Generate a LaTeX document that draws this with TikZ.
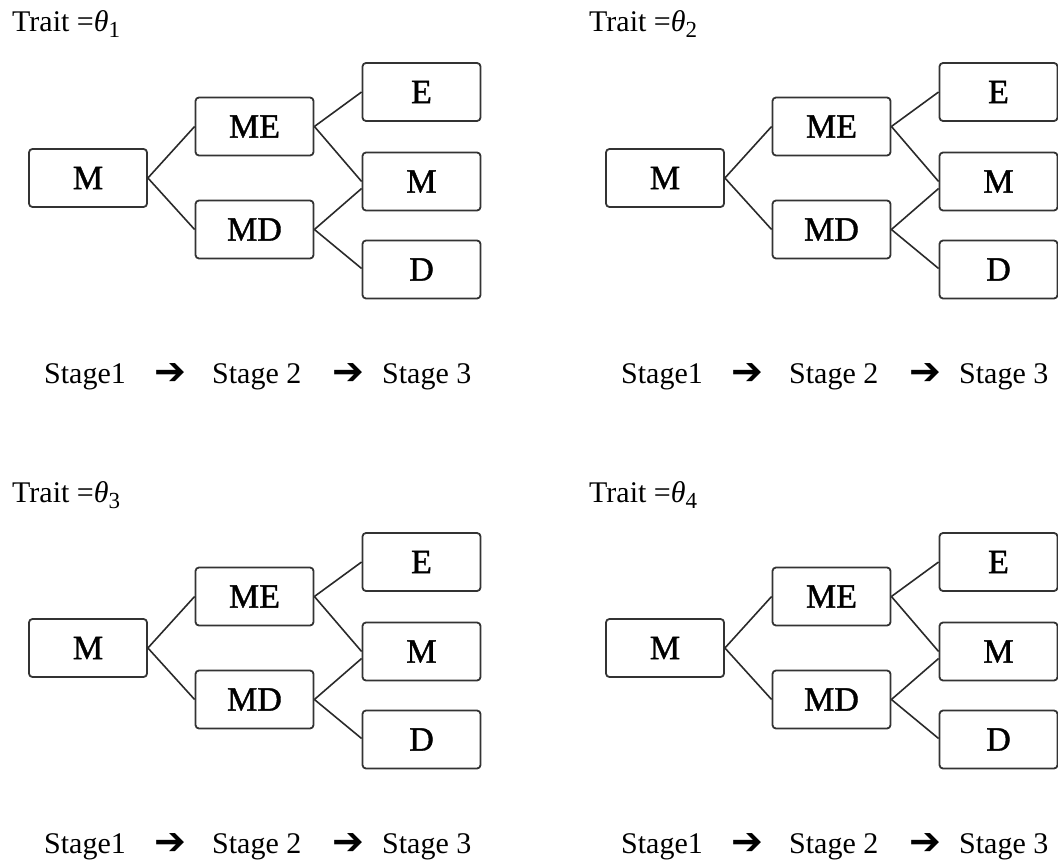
\documentclass[tikz,border=0pt]{standalone}
\usepackage{fontspec}
\setmainfont{Liberation Serif}
\newfontfamily\boxfont{Liberation Serif}[FakeBold=1.2]
\newfontfamily\arrowfont{DejaVu Sans Bold}
\definecolor{boxline}{HTML}{333333}
\definecolor{linkline}{HTML}{2A2A2A}
\newcommand{\thetasub}[1]{{\itshape θ}\raisebox{-0.2em}{\fontsize{23}{24}\selectfont #1}}
\tikzset{
  stbox/.style={draw=boxline, line width=1.8pt, rounded corners=3.5pt, minimum width=118pt, minimum height=58pt, inner sep=0pt, font=\boxfont\fontsize{34}{38}\selectfont},
  link/.style={draw=linkline, line width=1.6pt},
  traittext/.style={anchor=base west, inner sep=0pt, font=\fontsize{30}{36}\selectfont},
  stagetext/.style={anchor=base west, inner sep=0pt, font=\fontsize{30}{36}\selectfont},
  arrowtext/.style={anchor=center, inner sep=0pt, font=\arrowfont\fontsize{38}{40}\selectfont}
}
\begin{document}
\begin{tikzpicture}[x=1pt,y=-1pt]
\useasboundingbox (0,0) rectangle (1058,861);
\foreach \i/\dx/\dy in {1/0/0,2/577/0,3/0/470,4/577/470}{
\begin{scope}[shift={(\dx,\dy)}]
  \node[traittext] (trait\i) at (12,32) {Trait =\thetasub{\i}};
  \node[stbox] (a\i) at (88,178) {M};
  \node[stbox] (me\i) at (254.5,126.5) {ME};
  \node[stbox] (md\i) at (254.5,229.5) {MD};
  \node[stbox] (e\i) at (421.5,92) {E};
  \node[stbox] (m\i) at (421.5,181.5) {M};
  \node[stbox] (d\i) at (421.5,269.5) {D};
  \draw[link] (a\i.east) -- (me\i.west);
  \draw[link] (a\i.east) -- (md\i.west);
  \draw[link] (me\i.east) -- (e\i.west);
  \draw[link] (me\i.east) -- (m\i.west);
  \draw[link] (md\i.east) -- ([yshift=-7pt]m\i.west);
  \draw[link] (md\i.east) -- ([yshift=1pt]d\i.west);
  \node[stagetext] (s1\i) at (44,383) {Stage1};
  \node[arrowtext] (r1\i) at (170,374) {➔};
  \node[stagetext] (s2\i) at (212,383) {Stage 2};
  \node[arrowtext] (r2\i) at (348.5,374) {➔};
  \node[stagetext] (s3\i) at (382,383) {Stage 3};
\end{scope}
}
\end{tikzpicture}
\end{document}
